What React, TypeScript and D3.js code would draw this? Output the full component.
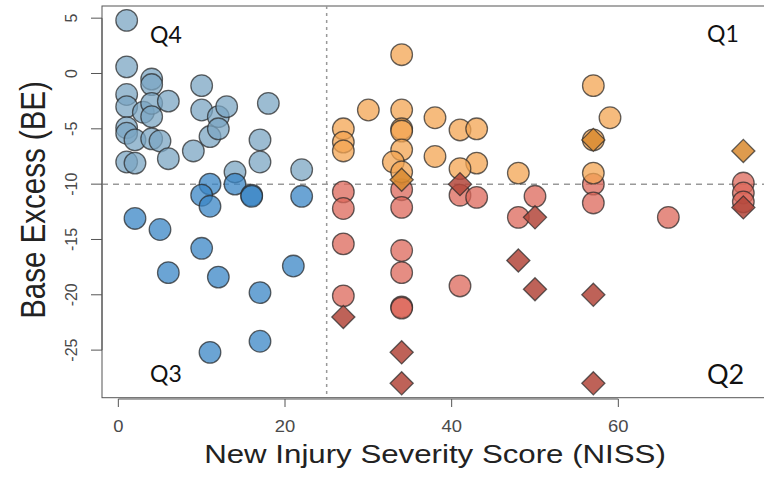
import React from "react";
import * as d3 from "d3";

// NISS (x) vs Base Excess (y), grouped by quadrant
const q4Circles: [number, number][] = [
  [1, 4.8], [1, 0.6], [1, -1.9], [1, -3], [1, -4.9], [1, -5.4], [2, -6], [1, -8], [2, -8.1],
  [4, -0.5], [4, -1], [3, -3.5], [4, -2.7], [4, -3.9], [6, -2.5], [4, -5.9], [5, -6.1],
  [6, -7.7], [9, -7], [10, -1.1], [10, -3.3], [11, -5.7], [12, -3.9], [12, -5], [13, -3],
  [18, -2.7], [17, -6], [17, -8], [22, -8.7], [14, -8.9],
];
const q3Circles: [number, number][] = [
  [11, -10], [10, -11], [11, -12], [14, -10], [16, -11], [16, -11.1], [22, -11.1],
  [2, -13.1], [5, -14.1], [10, -15.8], [6, -18], [12, -18.4], [17, -19.8], [21, -17.4],
  [17, -24.2], [11, -25.2],
];
const q2Circles: [number, number][] = [
  [27, -10.7], [27, -12.2], [27, -15.4], [27, -20.1],
  [34, -10.5], [34, -12.1], [34, -16], [34, -18], [34, -21.1], [34, -21.2],
  [41, -11], [43, -11.2], [41, -19.2], [50, -11.1], [48, -13],
  [57, -10], [57, -11.7], [66, -13], [75, -9.9], [75, -10.8], [75, -11.6],
];
const q1Circles: [number, number][] = [
  [34, 1.7], [30, -3.3], [34, -3.3], [34, -5], [34, -5.2], [34, -6.9], [33, -8], [34, -8.9],
  [27, -5], [27, -6.2], [27, -7], [38, -4], [38, -7.5], [41, -5.1], [43, -5], [43, -8.1],
  [41, -8.6], [48, -9], [57, -1.1], [59, -4], [57, -6], [57, -9],
];
const q2Diamonds: [number, number][] = [
  [27, -22], [34, -25.2], [34, -28], [41, -10], [50, -13], [48, -16.9], [50, -19.5],
  [57, -20], [57, -28], [75, -12.1],
];
const q1Diamonds: [number, number][] = [[34, -9.6], [57, -6], [75, -7]];

const xTicks = [0, 20, 40, 60];
const yTicks = [5, 0, -5, -10, -15, -20, -25];
const xCut = 25;
const yCut = -10;

const W = 764;
const H = 477;

export default function App() {
  const x = d3.scaleLinear().domain([-1.96, 77.96]).range([102, 768]);
  const y = d3.scaleLinear().domain([-29.3, 6.1]).range([397.7, 6]);
  const diamond = d3.symbol().type(d3.symbolDiamond2).size(340);

  const stroke = "rgba(40,40,40,0.72)";
  const circles = (pts: [number, number][], fill: string, key: string) =>
    pts.map(([a, b], i) => (
      <circle key={key + i} cx={x(a)} cy={y(b)} r={10.8} fill={fill} fillOpacity={0.75}
        stroke={stroke} strokeWidth={1.3} />
    ));
  const diamonds = (pts: [number, number][], fill: string, key: string) =>
    pts.map(([a, b], i) => (
      <path key={key + i} d={diamond()!} transform={`translate(${x(a)},${y(b)})`} fill={fill}
        fillOpacity={0.85} stroke={stroke} strokeWidth={1.3} />
    ));

  const axisColor = "#555";
  const sans = "Liberation Sans, Arial, sans-serif";
  const tickFont = { fontFamily: sans, fontSize: 16, fill: "#4a4a4a" };
  const qFont = { fontFamily: "Lato, sans-serif", fill: "#111" };

  return (
    <svg width={W} height={H} style={{ position: "absolute", left: 0, top: 0, background: "#fff" }}>
      <rect x={0} y={0} width={W} height={H} fill="#fff" />
      {/* plot box */}
      <rect x={x(-1.96)} y={y(6.1)} width={x(77.96) - x(-1.96)} height={y(-29.3) - y(6.1)}
        fill="none" stroke={axisColor} strokeWidth={1} />

      {/* quadrant cut lines */}
      <line x1={x(xCut)} x2={x(xCut)} y1={y(6.1)} y2={y(-29.3)} stroke="#999" strokeWidth={1.5}
        strokeDasharray="3,4" />
      <line x1={x(-1.96)} x2={x(77.96)} y1={y(yCut)} y2={y(yCut)} stroke="#999" strokeWidth={1.5}
        strokeDasharray="6,5" />

      {circles(q4Circles, "#7ba6c3", "q4")}
      {circles(q3Circles, "#3a85c6", "q3")}
      {circles(q2Circles, "#dc6759", "q2")}
      {circles(q1Circles, "#f3a452", "q1")}
      {diamonds(q2Diamonds, "#b3463b", "d2")}
      {diamonds(q1Diamonds, "#d8892f", "d1")}

      {/* x axis */}
      <line x1={x(xTicks[0])} x2={x(xTicks[xTicks.length - 1])} y1={399} y2={399} stroke={axisColor} />
      {xTicks.map((t) => (
        <g key={"xt" + t}>
          <line x1={x(t)} x2={x(t)} y1={399} y2={407} stroke={axisColor} />
          <text transform={`translate(${x(t)},432) scale(1.15,1)`} textAnchor="middle" {...tickFont}>{t}</text>
        </g>
      ))}
      {/* y axis */}
      <line x1={102} x2={102} y1={y(yTicks[0])} y2={y(yTicks[yTicks.length - 1])} stroke={axisColor} />
      {yTicks.map((t) => (
        <g key={"yt" + t}>
          <line x1={91} x2={102} y1={y(t)} y2={y(t)} stroke={axisColor} />
          <text transform={`translate(77,${y(t)}) rotate(-90)`} textAnchor="middle" {...tickFont}>{t}</text>
        </g>
      ))}

      <text transform="translate(435,463) scale(1.25,1)" textAnchor="middle" fontFamily={sans}
        fontSize={25} fill="#222">New Injury Severity Score (NISS)</text>
      <text transform="translate(45,200) scale(1.2,1) rotate(-90)" textAnchor="middle"
        fontFamily={sans} fontSize={29.5} fill="#222">Base Excess (BE)</text>

      <text x={150} y={43} fontSize={23} {...qFont}>Q4</text>
      <text x={707} y={42} fontSize={23} {...qFont}>Q1</text>
      <text x={150} y={382} fontSize={23} {...qFont}>Q3</text>
      <text x={707} y={384} fontSize={27} {...qFont}>Q2</text>
    </svg>
  );
}
